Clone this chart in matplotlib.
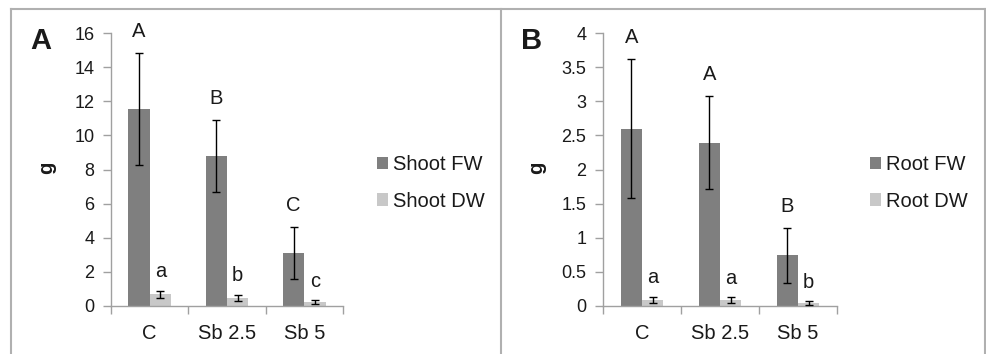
import matplotlib
matplotlib.use("Agg")
import matplotlib.pyplot as plt
from matplotlib.lines import Line2D
import numpy as np

plt.rcParams['font.family'] = ['Liberation Sans', 'DejaVu Sans']

# данные
categories = ['C', 'Sb 2.5', 'Sb 5']

shoot_fw = [11.55, 8.8, 3.1]
shoot_fw_err = [3.27, 2.1, 1.53]
shoot_dw = [0.68, 0.49, 0.21]
shoot_dw_err = [0.22, 0.17, 0.12]
shoot_fw_letters = ['A', 'B', 'C']
shoot_dw_letters = ['a', 'b', 'c']

root_fw = [2.6, 2.395, 0.74]
root_fw_err = [1.02, 0.675, 0.4]
root_dw = [0.09, 0.09, 0.04]
root_dw_err = [0.046, 0.04, 0.03]
root_fw_letters = ['A', 'A', 'B']
root_dw_letters = ['a', 'a', 'b']

ymax_a, ystep_a = 16, 2
ymax_b, ystep_b = 4, 0.5

dark = '#7f7f7f'
light = '#c8c8c8'
axis_col = '#a0a0a0'
txt = '#1a1a1a'

W, H = 987, 354
fig = plt.figure(figsize=(W / 100, H / 100), dpi=100)


def px_rect(x0, x1, y_top, y_bot):
    return [x0 / W, 1 - y_bot / H, (x1 - x0) / W, (y_bot - y_top) / H]


def panel(rect, fw, fw_err, dw, dw_err, fw_let, dw_let, ymax, ystep, names, tick_fmt):
    ax = fig.add_axes(rect)
    x = np.arange(len(categories))
    w = 0.275
    b1 = ax.bar(x - w / 2, fw, w, color=dark, label=names[0], zorder=2)
    b2 = ax.bar(x + w / 2, dw, w, color=light, label=names[1], zorder=2)
    ax.errorbar(x - w / 2, fw, yerr=fw_err, fmt='none', ecolor='black',
                elinewidth=1, capsize=3, capthick=1, zorder=3)
    ax.errorbar(x + w / 2, dw, yerr=dw_err, fmt='none', ecolor='black',
                elinewidth=1, capsize=3, capthick=1, zorder=3)
    for i in range(len(categories)):
        ax.annotate(fw_let[i], (x[i] - w / 2, fw[i] + fw_err[i]), xytext=(0, 15.5),
                    textcoords='offset points', ha='center', va='center',
                    fontsize=14.5, color=txt)
        ax.annotate(dw_let[i], (x[i] + w / 2, dw[i] + dw_err[i]), xytext=(0, 13.5),
                    textcoords='offset points', ha='center', va='center',
                    fontsize=14.5, color=txt)
    ax.set_xlim(-0.5, len(categories) - 0.5)
    ax.set_ylim(0, ymax)
    ticks = np.arange(0, ymax + ystep / 2, ystep)
    ax.set_yticks(ticks)
    ax.set_yticklabels([tick_fmt(t) for t in ticks])
    ax.set_xticks(x)
    ax.set_xticklabels(categories)
    ax.set_xticks(np.arange(-0.5, len(categories)), minor=True)
    ax.tick_params(axis='x', which='major', length=0, pad=13, labelsize=14.5, labelcolor=txt)
    ax.tick_params(axis='x', which='minor', length=6, width=1, color=axis_col)
    ax.tick_params(axis='y', length=6, width=1, color=axis_col, pad=6, labelsize=13, labelcolor=txt)
    for s in ['top', 'right']:
        ax.spines[s].set_visible(False)
    for s in ['left', 'bottom']:
        ax.spines[s].set_color(axis_col)
        ax.spines[s].set_linewidth(1)
    return ax, (b1, b2)


ax_a, hs_a = panel(px_rect(111, 343, 33, 306), shoot_fw, shoot_fw_err, shoot_dw, shoot_dw_err,
                   shoot_fw_letters, shoot_dw_letters, ymax_a, ystep_a, ['Shoot FW', 'Shoot DW'],
                   lambda t: '%d' % t)
ax_b, hs_b = panel(px_rect(603, 837, 33, 306), root_fw, root_fw_err, root_dw, root_dw_err,
                   root_fw_letters, root_dw_letters, ymax_b, ystep_b, ['Root FW', 'Root DW'],
                   lambda t: ('%g' % t))

for ax, lx in [(ax_a, 377), (ax_b, 870)]:
    ax.legend(loc='center left', bbox_to_anchor=(lx / W, 1 - 183 / H),
              bbox_transform=fig.transFigure, frameon=False, fontsize=14.5,
              handlelength=0.55, handleheight=0.55, handletextpad=0.25,
              labelspacing=0.85, borderaxespad=0, borderpad=0, labelcolor=txt)

# подписи осей и панелей
fig.text(47 / W, 1 - 168 / H, 'g', rotation=90, fontsize=14.5, fontweight='bold',
         ha='center', va='center', color=txt)
fig.text(537 / W, 1 - 168 / H, 'g', rotation=90, fontsize=14.5, fontweight='bold',
         ha='center', va='center', color=txt)
fig.text(41 / W, 1 - 41 / H, 'A', fontsize=21, fontweight='bold', ha='center', va='center', color=txt)
fig.text(532 / W, 1 - 41 / H, 'B', fontsize=21, fontweight='bold', ha='center', va='center', color=txt)

# рамка
frame = '#b0b0b0'
for xs, ys in [([11, 985], [9, 9]), ([11, 11], [9, H]), ([501, 501], [9, H]), ([985, 985], [9, H])]:
    fig.add_artist(Line2D([v / W for v in xs], [1 - v / H for v in ys],
                          color=frame, linewidth=1.5, transform=fig.transFigure))

fig.savefig('out.png', dpi=100)
